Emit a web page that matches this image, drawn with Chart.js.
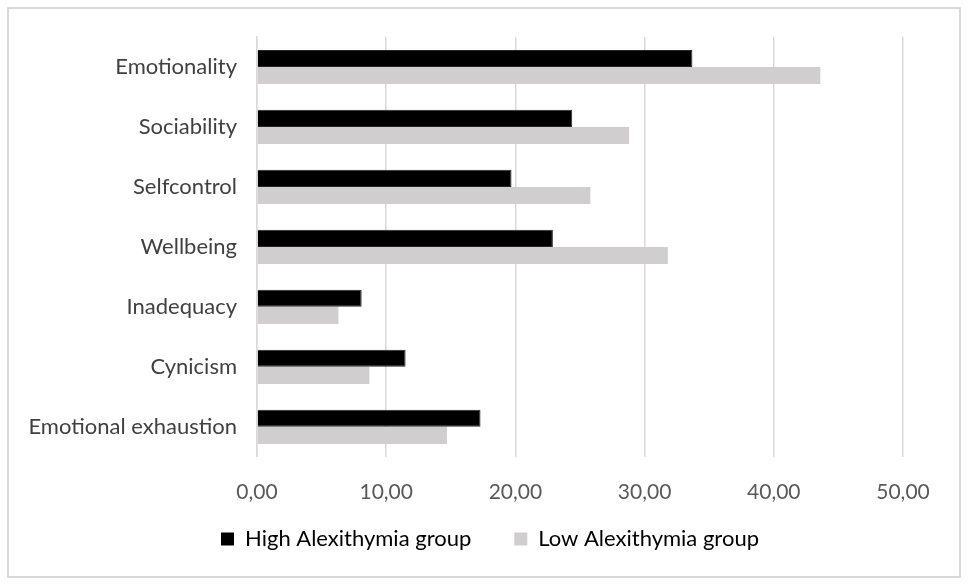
<!DOCTYPE html>
<html>
<head>
<meta charset="utf-8">
<script src="https://cdn.jsdelivr.net/npm/chart.js@4/dist/chart.umd.min.js"></script>
<style>
  html, body { margin: 0; padding: 0; background: #fff; }
  #box {
    position: absolute; left: 7px; top: 7px;
    width: 954px; height: 571px;
    border: 2px solid #d9d9d9; box-sizing: border-box;
  }
  #chart { display: block; }
</style>
</head>
<body>
<div id="box"><canvas id="chart"></canvas></div>
<script>
// categories, top to bottom
const categories = ["Emotionality", "Sociability", "Selfcontrol", "Wellbeing",
  "Inadequacy", "Cynicism", "Emotional exhaustion"];

// group means
const highAlex = [33.7, 24.4, 19.7, 22.9, 8.1, 11.5, 17.3];
const lowAlex = [43.6, 28.8, 25.8, 31.8, 6.3, 8.7, 14.7];

const seriesNames = ["High Alexithymia group", "Low Alexithymia group"];
const xTicks = [0, 10, 20, 30, 40, 50];

const font = "Lato, 'Open Sans', sans-serif";

// the legend needs wide gaps between items but sits close to the axis,
// so move it after layout (also undo the trailing gap that pushes it left)
const moveLegend = {
  id: "moveLegend",
  afterLayout(chart) {
    const lg = chart.legend;
    lg.top -= 43;
    lg.bottom -= 43;
    lg.left += 34;
    lg.right += 34;
    lg.adjustHitBoxes();
  }
};

new Chart(document.getElementById("chart"), {
  type: "bar",
  plugins: [moveLegend],
  data: {
    labels: categories,
    datasets: [
      {
        label: seriesNames[0],
        data: highAlex,
        backgroundColor: "#000000",
        borderColor: "#262626",
        borderWidth: 1,
        barPercentage: 1,
        categoryPercentage: 0.57
      },
      {
        label: seriesNames[1],
        data: lowAlex,
        backgroundColor: "#d0cece",
        borderWidth: 0,
        barPercentage: 1,
        categoryPercentage: 0.57
      }
    ]
  },
  options: {
    indexAxis: "y",
    responsive: true,
    maintainAspectRatio: false,
    animation: false,
    layout: { padding: { top: 28, right: 56, bottom: -24, left: 0 } },
    scales: {
      x: {
        min: xTicks[0],
        max: xTicks[xTicks.length - 1],
        afterBuildTicks: s => { s.ticks = xTicks.map(v => ({ value: v })); },
        grid: { color: "#d9d9d9", lineWidth: 1.5, drawTicks: false },
        border: { display: false },
        ticks: {
          color: "#595959",
          font: { family: font, size: 21 },
          padding: 23,
          callback: v => v.toFixed(2).replace(".", ",")
        }
      },
      y: {
        grid: { display: false, drawTicks: false },
        border: { display: true, color: "#d9d9d9", width: 1.5 },
        ticks: {
          color: "#404040",
          font: { family: font, size: 22 },
          padding: 20
        },
        afterFit: s => {
          s.width = 248;
          s.paddingTop = 0;
          s.paddingBottom = 0;
        }
      }
    },
    plugins: {
      tooltip: { enabled: false },
      legend: {
        position: "bottom",
        maxHeight: 72,
        labels: {
          color: "#404040",
          font: { family: font, size: 22 },
          boxWidth: 13,
          boxHeight: 13,
          padding: 43,
          generateLabels: chart => chart.data.datasets.map((d, i) => ({
            text: d.label,
            fillStyle: d.backgroundColor,
            strokeStyle: d.backgroundColor,
            lineWidth: 0,
            datasetIndex: i
          }))
        }
      }
    }
  }
});
</script>
</body>
</html>
